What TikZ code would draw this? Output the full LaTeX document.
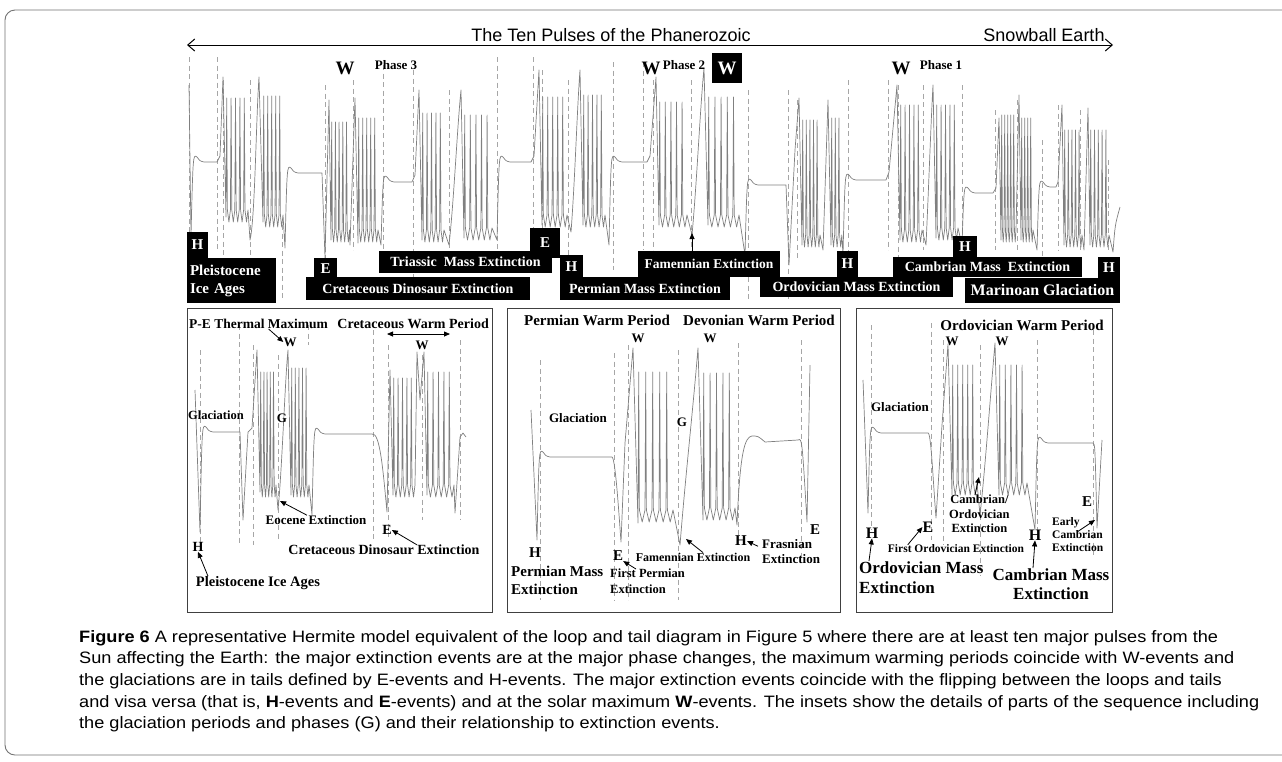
\documentclass[tikz,border=0pt]{standalone}
\usepackage{fontspec}
\setmainfont{Liberation Serif}
\newfontfamily\sansf{Liberation Sans}
\newfontfamily\capf{Liberation Sans}[FakeStretch=1.1]
\usetikzlibrary{arrows.meta}

% bold serif labels: size, baselineskip
\newcommand\lf[2]{\bfseries\fontsize{#1}{#2}\selectfont}
% n narrow spikes of pitch #2 from x #1, tops #4, bottoms #5
\newcommand\spk[5]{\foreach \k in {1,...,#3}{ -- ({#1+(\k-1)*#2+0.7},#4) -- ({#1+(\k-1)*#2+1.4},#5)
  -- ({#1+(\k-0.5)*#2+0.7},{#5+12}) -- ({#1+\k*#2},#5)}}
% tail: rise from dip at x #1 to plateau #3, flat to x #2
\newcommand\tl[3]{ .. controls ({#1+2},{#3-8}) .. ({#1+6},{#3-5}) .. controls ({#1+9},{#3-1}) .. ({#1+13},#3) -- (#2,#3)}

\tikzset{
  wave/.style={draw=black!50, line width=0.7pt, line join=round},
  dline/.style={draw=black!35, line width=0.7pt, dash pattern=on 5pt off 3.5pt},
  blk/.style={fill=black, text=white, inner sep=0pt, font=\lf{14}{16}},
  lbl/.style={inner sep=0pt, font=\lf{13}{15}},
  box/.style={draw=black!75, line width=0.9pt},
  arr/.style={-{Triangle[length=6pt,width=5pt]}, line width=0.8pt},
}

\begin{document}
\begin{tikzpicture}[x=1pt, y=-1pt]
\useasboundingbox (0,0) rectangle (1282,761);
\fill[white] (0,0) rectangle (1282,761);
\draw[black!55, line width=0.9pt, rounded corners=10pt] (1290,10) -| (5,755) -- (1290,755);

% title
\node[font=\sansf\fontsize{18}{20}\selectfont, inner sep=0pt] (ttl) at (611,35) {The Ten Pulses of the Phanerozoic};
\node[font=\sansf\fontsize{18}{20}\selectfont, inner sep=0pt] (snow) at (1044,35) {Snowball Earth};
\coordinate (tA) at (187,45);
\coordinate (tB) at (1113,45);
\draw[{Straight Barb[length=7pt,width=12pt]}-{Straight Barb[length=7pt,width=12pt]}, line width=1pt] (tA) -- (tB);

% main sequence: dashed markers
\foreach \x/\a/\b in {189/57/250, 217/57/250, 223/80/265, 250/80/270, 282/225/300, 325/85/280,
  353/80/250, 383/65/270, 413/70/285, 449/90/250, 497/57/260, 533/57/260, 542/70/250,
  568/80/260, 613/62/270, 643/62/250, 653/80/250, 691/80/250, 748/90/300, 788/90/300,
  797/100/260, 848/80/260, 888/80/250, 898/85/260, 923/85/250, 962/85/240, 995/110/250,
  1017/100/250, 1042/140/270, 1058/105/250, 1080/110/250, 1108/160/250}
  \draw[dline] (\x,\a) -- (\x,\b);

% main sequence: wave
\draw[wave] (189,85) -- (191,236) \tl{191}{217}{162} -- (220,156) -- (223,77) -- (226,217)
  \spk{226}{4.4}{5}{98}{210} -- (250,240) .. controls (255,220) and (256,120) .. (259,77) -- (263,222)
  \spk{263}{4}{5}{96}{215} -- (285,248) \tl{285}{322}{173} -- (325,258) -- (329,100) -- (331,240)
  \spk{331}{3.7}{5}{122}{230} -- (350,245) -- (355,98) -- (358,243)
  \spk{358}{4}{5}{118}{230} -- (381,245) \tl{381}{412}{182} -- (415,175) -- (419,90) -- (422,240)
  \spk{422}{4.4}{5}{113}{230} -- (449,245) .. controls (454,200) and (457,130) .. (461,90) -- (464,238)
  \spk{464}{5.6}{5}{115}{228} -- (497,240) \tl{497}{531}{162} -- (534,156) -- (539,70) -- (542,225)
  \spk{542}{5}{5}{97}{215} -- (571,232) .. controls (575,180) and (577,110) .. (580,70) -- (583,225)
  \spk{583}{4.4}{5}{95}{215} -- (609,245) \tl{609}{647}{162} -- (650,156) -- (656,77) -- (659,225)
  \spk{659}{5.6}{5}{102}{215} -- (692,235) .. controls (697,180) and (700,110) .. (704,68) -- (708,225)
  \spk{708}{6.2}{5}{97}{215} -- (745,255) \tl{745}{786}{185} -- (789,265) -- (795,150) -- (799,98) -- (802,245)
  \spk{802}{3.6}{5}{120}{235} -- (823,250) -- (828,100) -- (831,245)
  \spk{831}{3.6}{3}{118}{235} -- (843,255) \tl{843}{886}{180} -- (889,172) -- (897,85) -- (900,240)
  \spk{900}{4.4}{5}{105}{230} -- (926,245) .. controls (929,180) and (931,120) .. (933,85) -- (936,238)
  \spk{936}{4.4}{5}{105}{228} -- (962,245) \tl{962}{993}{193} -- (996,188) -- (999,118) -- (1001,240)
  \spk{1001}{3}{5}{115}{230} -- (1019,95) -- (1021,240)
  \spk{1021}{3}{4}{118}{230} -- (1037,250) \tl{1037}{1056}{187} -- (1058,182) -- (1062,105) -- (1064,245)
  \spk{1064}{3.6}{5}{130}{235} -- (1084,250) -- (1088,108) -- (1090,245)
  \spk{1090}{3.8}{5}{130}{235} -- (1113,252) .. controls (1115,225) .. (1120,207);

% main sequence: phase labels
\node[lbl, font=\lf{19}{19}] (wP3) at (345,68) {W};
\node[lbl, font=\lf{13}{13}] (ph3) at (396,65) {Phase 3};
\node[lbl, font=\lf{19}{19}] (wP2) at (651,68) {W};
\node[lbl, font=\lf{13}{13}] (ph2) at (684,65) {Phase 2};
\node[blk, font=\lf{19}{19}, minimum width=30, minimum height=30] (wBx) at (727,68) {W};
\node[lbl, font=\lf{19}{19}] (wP1) at (901,68) {W};
\node[lbl, font=\lf{13}{13}] (ph1) at (941,65) {Phase 1};

% main sequence: event boxes
\node[blk, font=\lf{15}{15}, minimum width=21, minimum height=26] (hA) at (197.5,245) {H};
\node[blk, font=\lf{15}{18}, minimum width=89, minimum height=45, text width=83, align=left] (pia) at (231.5,280.5) {Pleistocene\\Ice Ages};
\node[blk, minimum width=224, minimum height=23] (cde) at (418,288.5) {Cretaceous Dinosaur Extinction};
\node[blk, font=\lf{15}{15}, minimum width=23, minimum height=22] (eA) at (325.5,269) {E};
\node[blk, minimum width=173, minimum height=22] (tme) at (465.5,262) {Triassic\ \ Mass Extinction};
\node[blk, font=\lf{15}{15}, minimum width=30, minimum height=30] (eB) at (545,243) {E};
\node[blk, minimum width=170, minimum height=23] (pme) at (645,288.5) {Permian Mass Extinction};
\node[blk, font=\lf{15}{15}, minimum width=23, minimum height=23] (hB) at (571.5,266.5) {H};
\node[blk, font=\lf{13.5}{15}, minimum width=142, minimum height=26] (fex) at (709,264) {Famennian Extinction};
\node[blk, minimum width=193, minimum height=20] (ome) at (856.5,287) {Ordovician Mass Extinction};
\node[blk, font=\lf{15}{15}, minimum width=21, minimum height=26] (hC) at (847.5,264) {H};
\node[blk, minimum width=189, minimum height=20] (cme) at (987.5,267) {Cambrian Mass\ \ Extinction};
\node[blk, font=\lf{15}{15}, minimum width=24, minimum height=21] (hD) at (965,246.5) {H};
\node[blk, font=\lf{16}{16}, minimum width=155, minimum height=25] (mgl) at (1042.5,290.5) {Marinoan Glaciation};
\node[blk, font=\lf{15}{15}, minimum width=22, minimum height=21] (hE) at (1109,267.5) {H};
\coordinate (famT) at (692,233);
\draw[arr] (fex.north -| famT) -- (famT);

% insets
\draw[box] (187,308) rectangle (492,612);
\draw[box] (507,308) rectangle (840,612);
\draw[box] (856,308) rectangle (1112,612);

% inset 1
\foreach \x/\a/\b in {200/350/560, 239/325/545, 253/345/545, 278/355/540, 308/325/345,
  373/330/540, 388/345/540, 422/355/520, 460/340/520}
  \draw[dline] (\x,\a) -- (\x,\b);
\draw[wave] (195,390) -- (200,532) \tl{200}{240}{432} -- (243,520) -- (248,432) -- (252,428) -- (257,350) -- (260,492)
  \spk{260}{3.2}{5}{372}{485} -- (278,510) .. controls (282,470) and (285,380) .. (288,350) -- (291,495)
  \spk{291}{3.6}{5}{368}{485} -- (312,515) \tl{312}{372}{434} .. controls (380,432) and (383,470) .. (387,512)
  -- (390,370) -- (393,495) \spk{393}{4.4}{5}{378}{485} -- (417,352) -- (420,400) -- (424,352) -- (427,495)
  \spk{427}{5.4}{5}{372}{485} -- (455,513) -- (460,437) -- (463,433) -- (466,437);
\node[lbl, font=\lf{13.5}{15}, anchor=west] (pe) at (189,324) {P-E Thermal Maximum};
\node[lbl, font=\lf{14}{15}, anchor=east] (cwp) at (489,324) {Cretaceous Warm Period};
\coordinate (cwA) at (387,334);
\coordinate (cwB) at (450,334);
\draw[{Triangle[length=6pt,width=5pt]}-{Triangle[length=6pt,width=5pt]}, line width=0.8pt] (cwA) -- (cwB);
\node[lbl] (wI1a) at (290,342) {W};
\node[lbl] (wI1b) at (422,345) {W};
\draw[arr] ([xshift=10pt]pe.south) -- (wI1a.west);
\node[lbl, font=\lf{12.5}{14}] (gli1) at (216,415) {Glaciation};
\node[lbl] (gI1) at (282,418) {G};
\node[lbl] (eoc) at (316,520) {Eocene Extinction};
\coordinate (eocH) at (280,501);
\draw[arr] ([xshift=-9pt]eoc.north) -- (eocH);
\node[lbl, font=\lf{14}{15}] (eI1) at (387,530) {E};
\node[lbl, font=\lf{14}{15}] (cdeI) at (384,550) {Cretaceous Dinosaur Extinction};
\draw[arr] ([xshift=33pt]cdeI.north) -- (eI1.east);
\node[lbl, font=\lf{14}{15}] (hI1) at (198,547) {H};
\node[lbl, font=\lf{14.5}{15}] (piaI) at (258,583) {Pleistocene Ice Ages};
\draw[arr] ([xshift=-50pt]piaI.north) -- (hI1.south);

% inset 2
\foreach \x/\a/\b in {540/360/600, 614/353/600, 628/345/600, 678/350/600, 738/343/540, 801/340/560}
  \draw[dline] (\x,\a) -- (\x,\b);
\draw[wave] (531,410) -- (537,540) \tl{537}{612}{457} .. controls (615,458) and (618,500) .. (621,542)
  -- (625,443) -- (633,348) -- (638,523) \spk{638}{7}{5}{372}{510} -- (680,545)
  .. controls (686,470) and (692,420) .. (698,348) -- (703,520) \spk{703}{6.4}{5}{373}{508} -- (737,525)
  .. controls (740,450) and (745,437) .. (752,436) .. controls (758,436) .. (765,442) -- (798,440)
  .. controls (802,438) .. (807,522) -- (810,365);
\node[lbl, font=\lf{15}{15}] (pwp) at (597,320) {Permian Warm Period};
\node[lbl, font=\lf{15}{15}] (dwp) at (759,320) {Devonian Warm Period};
\node[lbl] (wI2a) at (638,338) {W};
\node[lbl] (wI2b) at (710,338) {W};
\node[lbl] (gli2) at (578,418) {Glaciation};
\node[lbl] (gI2) at (682,422) {G};
\node[lbl, font=\lf{15}{15}] (hI2a) at (535,553) {H};
\node[lbl, font=\lf{15}{18}, anchor=north west, align=left] (pmx) at (511,566) {Permian Mass\\Extinction};
\node[lbl, font=\lf{15}{15}] (eI2) at (618,556) {E};
\node[lbl, font=\lf{12.5}{16}, anchor=north west, align=left] (fpe) at (610,569) {First Permian\\Extinction};
\draw[arr] ([xshift=26pt]fpe.north west) -- (eI2.south east);
\node[lbl, font=\lf{12}{13}] (famI) at (693,557) {Famennian Extinction};
\coordinate (famH) at (686,539);
\draw[arr] ([xshift=10pt]famI.north) -- (famH);
\node[lbl, font=\lf{15}{15}] (hI2b) at (741,541) {H};
\node[lbl, font=\lf{13}{15}, anchor=north west, align=left] (fras) at (762,539) {Frasnian\\Extinction};
\draw[arr] ([xshift=-4pt,yshift=5pt]fras.west) -- (hI2b.east);
\node[lbl, font=\lf{15}{15}] (eI2b) at (815,530) {E};

% inset 3
\foreach \x/\a/\b in {871/325/530, 931/323/540, 943/340/545, 980/345/575, 1037/340/540, 1093/330/555}
  \draw[dline] (\x,\a) -- (\x,\b);
\draw[wave] (863,380) -- (868,513) \tl{868}{928}{433} .. controls (931,432) and (933,480) .. (936,518)
  -- (942,425) -- (948,344) -- (952,495) \spk{952}{5}{5}{365}{483} -- (980,515)
  .. controls (985,470) and (990,400) .. (995,343) -- (999,495) \spk{999}{5.6}{5}{365}{483} -- (1035,530)
  \tl{1035}{1093}{443} .. controls (1095,444) .. (1097,528) -- (1102,440);
\node[lbl, font=\lf{15}{15}] (owp) at (1022,325) {Ordovician Warm Period};
\node[lbl] (wI3a) at (952,341) {W};
\node[lbl] (wI3b) at (1002,341) {W};
\node[lbl] (gli3) at (900,407) {Glaciation};
\node[lbl, font=\lf{16}{16}] (hI3a) at (872,533) {H};
\node[lbl, font=\lf{17}{20}, anchor=north west, align=left] (oma) at (859,561) {Ordovician Mass\\Extinction};
\draw[arr] ([xshift=10pt]oma.north west) -- (hI3a.south);
\node[lbl, font=\lf{16}{16}] (eI3a) at (928,527) {E};
\node[lbl, font=\lf{11.5}{13}] (foe) at (956,549) {First Ordovician Extinction};
\draw[arr] ([xshift=20pt]foe.north west) -- (eI3a.west);
\node[lbl, font=\lf{12.5}{14.5}, anchor=north west, align=center] (coe) at (949,495) {Cambrian/\\Ordovician\\Extinction};
\coordinate (coeH) at (979,477);
\draw[arr] ([xshift=26pt]coe.north west) -- (coeH);
\node[lbl, font=\lf{16}{16}] (hI3b) at (1035,535) {H};
\node[lbl, font=\lf{17}{19}, anchor=north, align=center] (cma) at (1051,568) {Cambrian Mass\\Extinction};
\draw[arr] ([xshift=-18pt]cma.north) -- (hI3b.south);
\node[lbl, font=\lf{15}{15}] (eI3b) at (1087,502) {E};
\node[lbl, font=\lf{11.5}{13}, anchor=north west, align=left] (ecx) at (1052,517) {Early\\Cambrian\\Extinction};
\coordinate (ecxH) at (1095,520);
\draw[arr] ([xshift=25pt,yshift=-15pt]ecx.north west) -- (ecxH);

% caption
\node[font=\capf\fontsize{16.5}{21.7}\selectfont, anchor=north west, align=left, inner sep=0pt] (cap) at (79,630)
 {\textbf{Figure 6} A representative Hermite model equivalent of the loop and tail diagram in Figure 5 where there are at least ten major pulses from the\\
  Sun affecting the Earth: the major extinction events are at the major phase changes, the maximum warming periods coincide with W-events and\\
  the glaciations are in tails defined by E-events and H-events. The major extinction events coincide with the flipping between the loops and tails\\
  and visa versa (that is, \textbf{H}-events and \textbf{E}-events) and at the solar maximum \textbf{W}-events. The insets show the details of parts of the sequence including\\
  the glaciation periods and phases (G) and their relationship to extinction events.};
\end{tikzpicture}
\end{document}
